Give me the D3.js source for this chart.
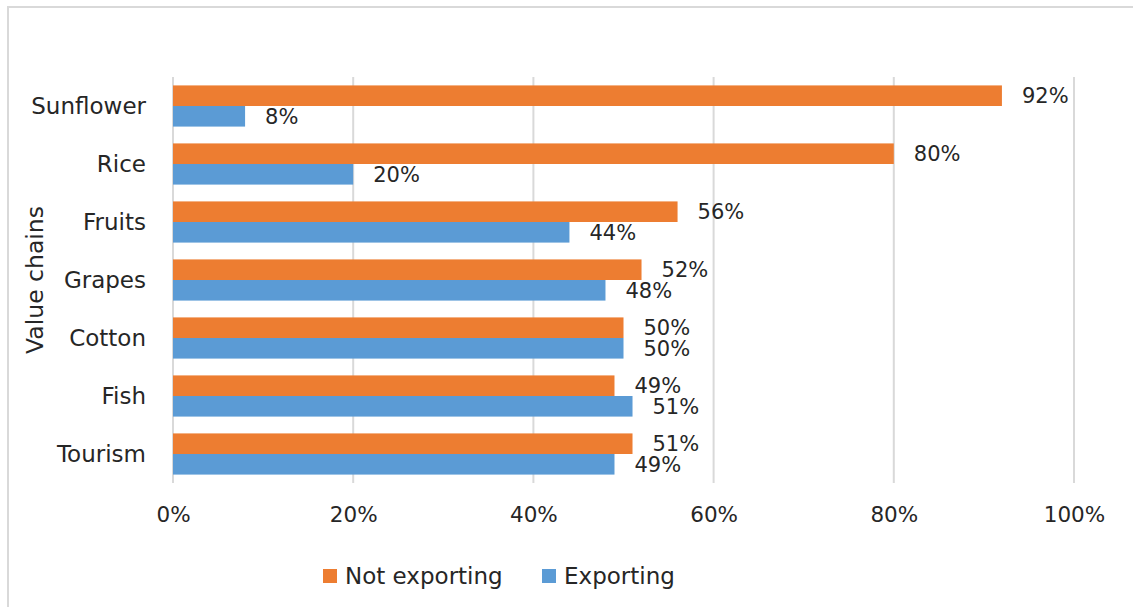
<!DOCTYPE html>
<html>
<head>
<meta charset="utf-8">
<script src="https://cdn.jsdelivr.net/npm/d3@7"></script>
<style>
  html, body { margin: 0; padding: 0; background: #fff; }
  svg { display: block; }
  text { font-family: "DejaVu Sans", sans-serif; fill: #262626; }
</style>
</head>
<body>
<svg id="chart" width="1133" height="607"></svg>
<script>
// Value chains and the share of firms exporting / not exporting
const categories = ["Sunflower", "Rice", "Fruits", "Grapes", "Cotton", "Fish", "Tourism"];
const notExporting = [92, 80, 56, 52, 50, 49, 51];
const exporting = [8, 20, 44, 48, 50, 51, 49];
const seriesNames = ["Not exporting", "Exporting"];
const seriesColors = ["#ED7D31", "#5B9BD5"];
const xTicks = [0, 20, 40, 60, 80, 100];

const svg = d3.select("#chart");
const W = 1133, H = 607;

// chart frame
svg.append("rect")
  .attr("x", 8).attr("y", 7)
  .attr("width", W + 20).attr("height", H + 20)
  .attr("fill", "#fff").attr("stroke", "#d9d9d9").attr("stroke-width", 2);

const plot = { left: 173, right: 1074, top: 77, bottom: 483 };

const x = d3.scaleLinear().domain([0, 100]).range([plot.left, plot.right]);
const y = d3.scaleBand().domain(categories).range([plot.top, plot.bottom]).paddingInner(0.29).paddingOuter(0.145);
const sub = d3.scaleBand().domain(seriesNames).range([0, y.bandwidth()]);

// vertical gridlines
svg.append("g").selectAll("line").data(xTicks).join("line")
  .attr("x1", d => x(d)).attr("x2", d => x(d))
  .attr("y1", plot.top).attr("y2", plot.bottom)
  .attr("stroke", "#d9d9d9").attr("stroke-width", 2);

// x axis tick labels
const xAxis = d3.axisBottom(x).tickValues(xTicks).tickFormat(d => d + "%").tickSize(0).tickPadding(0);
const gx = svg.append("g").attr("transform", `translate(0,${plot.bottom})`).call(xAxis);
gx.select(".domain").remove();
gx.selectAll("text")
  .attr("y", 39).attr("dy", null)
  .style("font-family", "DejaVu Sans, sans-serif").style("font-size", "21.5px").attr("fill", "#262626");

// category labels
const yAxis = d3.axisLeft(y).tickSize(0).tickPadding(0);
const gy = svg.append("g").attr("transform", `translate(146,0)`).call(yAxis);
gy.select(".domain").remove();
gy.selectAll("text")
  .attr("dy", "0.34em")
  .style("font-family", "DejaVu Sans, sans-serif").style("font-size", "23px").attr("fill", "#262626");

// axis title
svg.append("text")
  .attr("transform", `translate(43,${(plot.top + plot.bottom) / 2}) rotate(-90)`)
  .attr("text-anchor", "middle")
  .style("font-size", "23.5px")
  .text("Value chains");

// bars and value labels
const rows = categories.map((c, i) => ({ cat: c, vals: [notExporting[i], exporting[i]] }));
const groups = svg.append("g").selectAll("g").data(rows).join("g")
  .attr("transform", d => `translate(0,${y(d.cat)})`);

groups.selectAll("rect").data(d => d.vals.map((v, k) => ({ v, k }))).join("rect")
  .attr("x", x(0))
  .attr("y", d => sub(seriesNames[d.k]))
  .attr("width", d => x(d.v) - x(0))
  .attr("height", sub.bandwidth())
  .attr("fill", d => seriesColors[d.k]);

groups.selectAll("text.val").data(d => d.vals.map((v, k) => ({ v, k }))).join("text")
  .attr("class", "val")
  .attr("x", d => x(d.v) + 20)
  .attr("y", d => sub(seriesNames[d.k]) + sub.bandwidth() / 2)
  .attr("dy", "0.36em")
  .style("font-size", "21px")
  .text(d => d.v + "%");

// legend
const legendX = [323, 542];
const legend = svg.append("g").selectAll("g").data(seriesNames).join("g")
  .attr("transform", (d, i) => `translate(${legendX[i]},569)`);
legend.append("rect").attr("width", 14).attr("height", 14).attr("fill", (d, i) => seriesColors[i]);
legend.append("text").attr("x", 22).attr("y", 14.5).style("font-size", "23px").text(d => d);
</script>
</body>
</html>
